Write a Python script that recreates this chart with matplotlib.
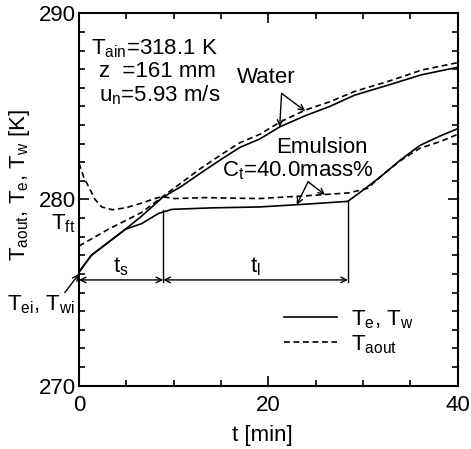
import matplotlib
matplotlib.use("Agg")
import matplotlib.pyplot as plt
from matplotlib.lines import Line2D
from matplotlib.ticker import MultipleLocator, FixedLocator

plt.rcParams['font.family'] = ['Liberation Sans', 'DejaVu Sans']
plt.rcParams['mathtext.fontset'] = 'custom'
plt.rcParams['mathtext.rm'] = 'Liberation Sans'
plt.rcParams['mathtext.it'] = 'Liberation Sans'
plt.rcParams['mathtext.default'] = 'rm'

# water: wall temperature (solid) and outlet air temperature (dashed)
t_water = [0, 1.3, 3.1, 4.9, 6.6, 8.8, 10.8, 12.8, 15.0, 17.0, 19.1, 21.2, 23.9, 26.5, 29.1, 32.7, 36.2, 40]
tw_water = [276.1, 277.0, 277.7, 278.4, 279.1, 280.1, 280.7, 281.4, 282.15, 282.8, 283.25, 283.9, 284.5,
            285.0, 285.6, 286.15, 286.7, 287.1]
t_water_air = [0, 3.1, 6.6, 9.1, 12.8, 15.0, 17.0, 19.1, 21.2, 23.9, 26.5, 29.1, 32.7, 36.2, 40]
taout_water = [277.5, 278.4, 279.3, 280.25, 281.65, 282.4, 283.05, 283.5, 284.15, 284.8, 285.25,
               285.8, 286.35, 286.95, 287.35]

# emulsion Ct = 40.0 mass%
t_emul = [0, 1.3, 3.1, 4.9, 6.6, 8.4, 9.8, 14, 19.1, 24, 28.4, 30.0, 31.8, 33.9, 36.0, 38.1, 40]
te_emul = [276.1, 277.0, 277.7, 278.4, 278.7, 279.25, 279.47, 279.55, 279.6, 279.75, 279.9, 280.5,
           281.2, 282.1, 282.9, 283.4, 283.8]
t_emul_air = [0, 0.5, 1.0, 1.7, 2.4, 3.5, 4.9, 6.6, 8.0, 8.8, 10.1, 13.3, 19, 24, 28.4, 29.3, 30.5,
              32, 34, 36, 38.1, 40]
taout_emul = [281.95, 281.2, 280.7, 280.0, 279.6, 279.45, 279.55, 279.8, 280.05, 280.15, 280.05, 280.1,
              280.05, 280.2, 280.35, 280.45, 280.6, 281.3, 282.1, 282.75, 283.1, 283.5]

t_s_end = 8.9      # end of supercooling period [min]
t_l_end = 28.4     # end of latent period [min]
T_ft = 278.7
T_arrow = 275.68

fig = plt.figure(figsize=(4.71, 4.49), dpi=100)
ax = fig.add_axes([0.1677, 0.141, 0.804, 0.8294])

lw = 1.2
dash = (3.5, 2.2)
ax.plot(t_water, tw_water, color='black', lw=lw)
ax.plot(t_water_air, taout_water, color='black', lw=lw, dashes=dash)
ax.plot(t_emul, te_emul, color='black', lw=lw)
ax.plot(t_emul_air, taout_emul, color='black', lw=lw, dashes=dash)

ax.set_xlim(0, 40)
ax.set_ylim(270, 290)
ax.xaxis.set_major_locator(FixedLocator([0, 20, 40]))
ax.xaxis.set_minor_locator(MultipleLocator(5))
ax.yaxis.set_major_locator(FixedLocator([270, 280, 290]))
ax.yaxis.set_minor_locator(MultipleLocator(1))
ax.tick_params(which='both', direction='in', top=True, right=True, labelsize=16, width=1.2)
ax.tick_params(which='major', length=7)
ax.tick_params(which='minor', length=4.5)
ax.tick_params(axis='x', pad=7)
ax.tick_params(axis='y', pad=2)
for s in ax.spines.values():
    s.set_linewidth(1.5)

fig.text(20 / 471, 1 - 185 / 449, r'$\mathrm{T_{aout}}$, $\mathrm{T_e}$, $\mathrm{T_w}$ [K]',
         rotation=90, ha='center', va='center', fontsize=16)
fig.text(262 / 471, 1 - 436 / 449, 't [min]', ha='center', va='center', fontsize=16)

# conditions
ax.text(1.3, 288.1, r'$\mathrm{T_{ain}}$=318.1 K', fontsize=16, va='center')
ax.text(2.1, 286.85, 'z  =161 mm', fontsize=16, va='center')
ax.text(2.1, 285.6, r'$\mathrm{u_n}$=5.93 m/s', fontsize=16, va='center')

# labels with arrows
arr = dict(arrowstyle='->', lw=1.0, color='black', shrinkA=0, shrinkB=0)
ax.text(19.75, 286.55, 'Water', fontsize=16, ha='center', va='center')
ax.annotate('', xy=(21.2, 283.9), xytext=(21.4, 285.7), arrowprops=arr)
ax.annotate('', xy=(23.9, 284.75), xytext=(21.4, 285.7), arrowprops=arr)

ax.text(25.7, 282.8, 'Emulsion', fontsize=16, ha='center', va='center')
ax.text(23.1, 281.55, r'$\mathrm{C_t}$=40.0mass%', fontsize=16, ha='center', va='center')
ax.annotate('', xy=(23.0, 279.72), xytext=(24.2, 280.95), arrowprops=arr)
ax.annotate('', xy=(26.0, 280.25), xytext=(24.2, 280.95), arrowprops=arr)

ax.text(-0.4, T_ft, r'$\mathrm{T_{ft}}$', fontsize=16, ha='right', va='center')
ax.text(-4.0, 274.35, r'$\mathrm{T_{ei}}$, $\mathrm{T_{wi}}$', fontsize=16, ha='center', va='center',
        clip_on=False)
ax.annotate('', xy=(0, 276.0), xytext=(-1.5, 275.0), arrowprops=arr, annotation_clip=False)

# supercooling / latent periods
ax.plot([t_s_end, t_s_end], [T_arrow - 0.1, 279.45], color='black', lw=1.0)
ax.plot([t_l_end, t_l_end], [T_arrow - 0.1, 279.9], color='black', lw=1.0)
arr2 = dict(arrowstyle='<->', lw=1.0, color='black', shrinkA=0, shrinkB=0)
ax.annotate('', xy=(t_s_end, T_arrow), xytext=(0, T_arrow), arrowprops=arr2)
ax.annotate('', xy=(t_l_end, T_arrow), xytext=(t_s_end, T_arrow), arrowprops=arr2)
ax.text(4.45, 276.4, r'$\mathrm{t_s}$', fontsize=16, ha='center', va='center')
ax.text(18.6, 276.4, r'$\mathrm{t_l}$', fontsize=16, ha='center', va='center')

handles = [Line2D([], [], color='black', lw=lw),
           Line2D([], [], color='black', lw=lw, dashes=dash)]
ax.legend(handles, [r'$\mathrm{T_e}$, $\mathrm{T_w}$', r'$\mathrm{T_{aout}}$'],
          loc='upper left', bbox_to_anchor=(0.5, 0.25), frameon=False, fontsize=16,
          handlelength=2.4, handletextpad=0.6, labelspacing=0.1, borderpad=0.2)

fig.savefig('out.png', dpi=100)
